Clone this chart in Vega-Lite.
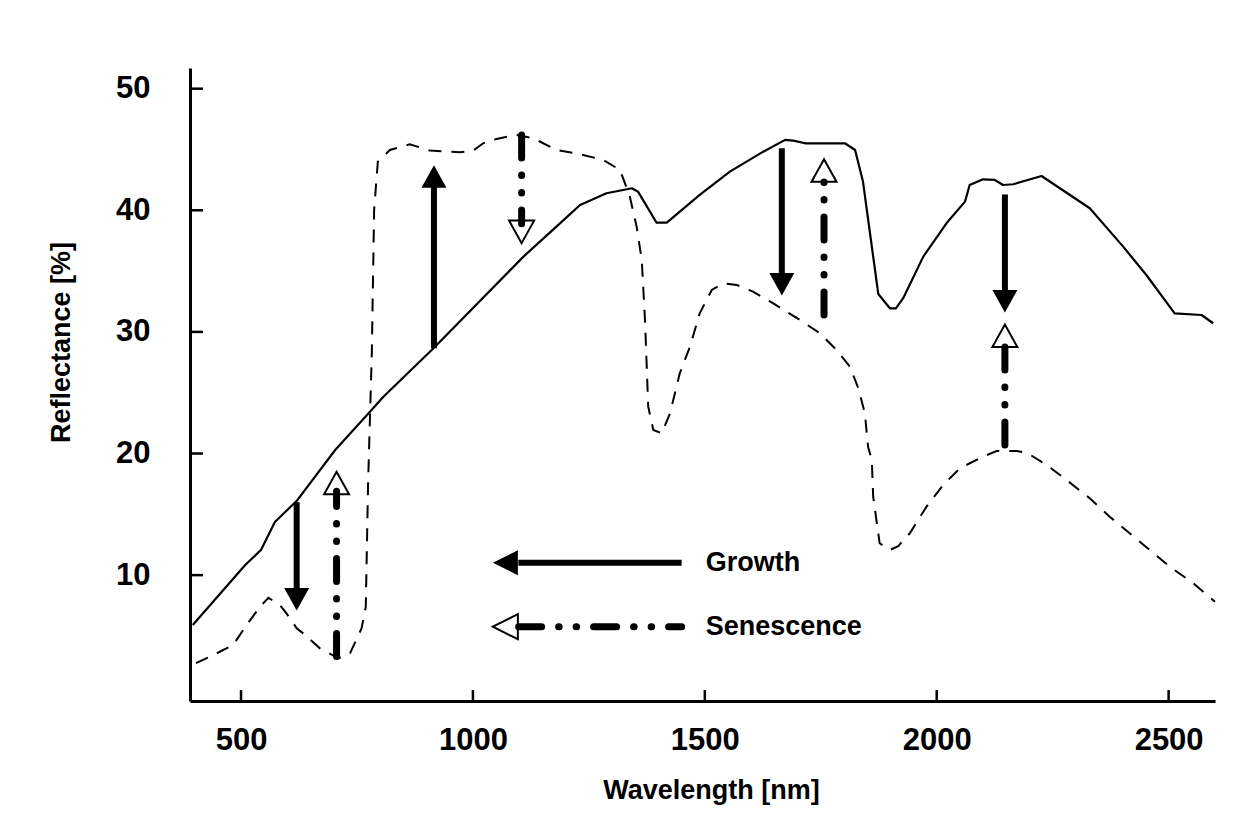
{
  "$schema": "https://vega.github.io/schema/vega-lite/v6.json",
  "width": 1025,
  "height": 633,
  "autosize": {"type": "none"},
  "padding": {"left": 190, "top": 68, "right": 33, "bottom": 114},
  "background": "white",
  "config": {
    "view": {"stroke": null},
    "font": "Liberation Sans",
    "axis": {
      "grid": false,
      "ticks": false,
      "domainColor": "black",
      "domainWidth": 3,
      "labelColor": "black",
      "labelFont": "Liberation Sans",
      "labelFontWeight": "bold",
      "labelFontSize": 31,
      "labelFlush": false,
      "labelOverlap": false,
      "labelBound": false,
      "titleColor": "black",
      "titleFont": "Liberation Sans",
      "titleFontWeight": "bold",
      "titleFontSize": 27
    }
  },
  "datasets": {
    "intact": [
      {"wavelength": 396, "reflectance": 5.9},
      {"wavelength": 509, "reflectance": 10.83},
      {"wavelength": 543, "reflectance": 12.07},
      {"wavelength": 573, "reflectance": 14.37},
      {"wavelength": 593, "reflectance": 15.11},
      {"wavelength": 621, "reflectance": 16.14},
      {"wavelength": 703, "reflectance": 20.29},
      {"wavelength": 778, "reflectance": 23.44},
      {"wavelength": 807, "reflectance": 24.67},
      {"wavelength": 915, "reflectance": 28.65},
      {"wavelength": 1109, "reflectance": 36.19},
      {"wavelength": 1180, "reflectance": 38.66},
      {"wavelength": 1231, "reflectance": 40.44},
      {"wavelength": 1288, "reflectance": 41.4},
      {"wavelength": 1343, "reflectance": 41.81},
      {"wavelength": 1356, "reflectance": 41.53},
      {"wavelength": 1396, "reflectance": 38.98},
      {"wavelength": 1418, "reflectance": 38.98},
      {"wavelength": 1489, "reflectance": 41.26},
      {"wavelength": 1554, "reflectance": 43.18},
      {"wavelength": 1626, "reflectance": 44.82},
      {"wavelength": 1673, "reflectance": 45.79},
      {"wavelength": 1691, "reflectance": 45.73},
      {"wavelength": 1716, "reflectance": 45.51},
      {"wavelength": 1802, "reflectance": 45.51},
      {"wavelength": 1824, "reflectance": 44.96},
      {"wavelength": 1841, "reflectance": 42.36},
      {"wavelength": 1874, "reflectance": 33.12},
      {"wavelength": 1899, "reflectance": 31.94},
      {"wavelength": 1912, "reflectance": 31.94},
      {"wavelength": 1928, "reflectance": 32.79},
      {"wavelength": 1971, "reflectance": 36.19},
      {"wavelength": 2021, "reflectance": 38.93},
      {"wavelength": 2061, "reflectance": 40.71},
      {"wavelength": 2071, "reflectance": 42.08},
      {"wavelength": 2100, "reflectance": 42.55},
      {"wavelength": 2125, "reflectance": 42.5},
      {"wavelength": 2143, "reflectance": 42.08},
      {"wavelength": 2165, "reflectance": 42.14},
      {"wavelength": 2226, "reflectance": 42.82},
      {"wavelength": 2330, "reflectance": 40.17},
      {"wavelength": 2402, "reflectance": 37.01},
      {"wavelength": 2452, "reflectance": 34.68},
      {"wavelength": 2513, "reflectance": 31.53},
      {"wavelength": 2571, "reflectance": 31.39},
      {"wavelength": 2596, "reflectance": 30.71}
    ],
    "senescent": [
      {"wavelength": 403, "reflectance": 2.77},
      {"wavelength": 433, "reflectance": 3.29},
      {"wavelength": 483, "reflectance": 4.25},
      {"wavelength": 512, "reflectance": 5.9},
      {"wavelength": 541, "reflectance": 7.4},
      {"wavelength": 559, "reflectance": 8.14},
      {"wavelength": 584, "reflectance": 7.54},
      {"wavelength": 598, "reflectance": 6.86},
      {"wavelength": 620, "reflectance": 5.63},
      {"wavelength": 634, "reflectance": 5.21},
      {"wavelength": 670, "reflectance": 3.98},
      {"wavelength": 710, "reflectance": 3.16},
      {"wavelength": 735, "reflectance": 3.57},
      {"wavelength": 760, "reflectance": 5.63},
      {"wavelength": 769, "reflectance": 7.4},
      {"wavelength": 774, "reflectance": 17.58},
      {"wavelength": 782, "reflectance": 28.27},
      {"wavelength": 787, "reflectance": 40.03},
      {"wavelength": 795, "reflectance": 44.0},
      {"wavelength": 821, "reflectance": 44.96},
      {"wavelength": 864, "reflectance": 45.43},
      {"wavelength": 907, "reflectance": 44.91},
      {"wavelength": 972, "reflectance": 44.77},
      {"wavelength": 1001, "reflectance": 44.91},
      {"wavelength": 1022, "reflectance": 45.51},
      {"wavelength": 1051, "reflectance": 45.87},
      {"wavelength": 1094, "reflectance": 46.2},
      {"wavelength": 1130, "reflectance": 45.93},
      {"wavelength": 1180, "reflectance": 44.96},
      {"wavelength": 1231, "reflectance": 44.61},
      {"wavelength": 1281, "reflectance": 44.14},
      {"wavelength": 1317, "reflectance": 43.32},
      {"wavelength": 1338, "reflectance": 41.18},
      {"wavelength": 1353, "reflectance": 38.66},
      {"wavelength": 1364, "reflectance": 35.92},
      {"wavelength": 1371, "reflectance": 30.98},
      {"wavelength": 1378, "reflectance": 23.85},
      {"wavelength": 1389, "reflectance": 21.94},
      {"wavelength": 1407, "reflectance": 21.66},
      {"wavelength": 1425, "reflectance": 23.31},
      {"wavelength": 1446, "reflectance": 26.6},
      {"wavelength": 1468, "reflectance": 28.79},
      {"wavelength": 1489, "reflectance": 31.53},
      {"wavelength": 1515, "reflectance": 33.45},
      {"wavelength": 1540, "reflectance": 34.0},
      {"wavelength": 1569, "reflectance": 33.86},
      {"wavelength": 1604, "reflectance": 33.31},
      {"wavelength": 1647, "reflectance": 32.36},
      {"wavelength": 1705, "reflectance": 30.98},
      {"wavelength": 1748, "reflectance": 29.89},
      {"wavelength": 1784, "reflectance": 28.51},
      {"wavelength": 1813, "reflectance": 27.14},
      {"wavelength": 1831, "reflectance": 25.36},
      {"wavelength": 1845, "reflectance": 23.31},
      {"wavelength": 1852, "reflectance": 20.56},
      {"wavelength": 1860, "reflectance": 19.47},
      {"wavelength": 1863, "reflectance": 16.45},
      {"wavelength": 1870, "reflectance": 14.53},
      {"wavelength": 1877, "reflectance": 12.62},
      {"wavelength": 1899, "reflectance": 12.07},
      {"wavelength": 1917, "reflectance": 12.39},
      {"wavelength": 1942, "reflectance": 13.44},
      {"wavelength": 1978, "reflectance": 15.63},
      {"wavelength": 2014, "reflectance": 17.41},
      {"wavelength": 2050, "reflectance": 18.79},
      {"wavelength": 2100, "reflectance": 19.74},
      {"wavelength": 2129, "reflectance": 20.21},
      {"wavelength": 2172, "reflectance": 20.21},
      {"wavelength": 2194, "reflectance": 20.07},
      {"wavelength": 2237, "reflectance": 19.06},
      {"wavelength": 2280, "reflectance": 17.82},
      {"wavelength": 2330, "reflectance": 16.32},
      {"wavelength": 2373, "reflectance": 14.8},
      {"wavelength": 2416, "reflectance": 13.44},
      {"wavelength": 2459, "reflectance": 12.07},
      {"wavelength": 2503, "reflectance": 10.69},
      {"wavelength": 2553, "reflectance": 9.33},
      {"wavelength": 2600, "reflectance": 7.81}
    ],
    "growth": [
      {"wavelength": 620, "from": 16.0, "to": 8.1, "tip": 7.1, "dir": "down"},
      {"wavelength": 916, "from": 28.65, "to": 42.7, "tip": 43.7, "dir": "up"},
      {"wavelength": 1666, "from": 45.1, "to": 34.0, "tip": 33.0, "dir": "down"},
      {"wavelength": 2147, "from": 41.3, "to": 32.6, "tip": 31.6, "dir": "down"}
    ],
    "senescence": [
      {"wavelength": 706, "from": 3.3, "to": 16.9, "tip": 18.5, "dir": "up"},
      {"wavelength": 1105, "from": 46.2, "to": 38.9, "tip": 37.3, "dir": "down"},
      {"wavelength": 1757, "from": 31.4, "to": 42.6, "tip": 44.2, "dir": "up"},
      {"wavelength": 2147, "from": 20.7, "to": 29.0, "tip": 30.6, "dir": "up"}
    ],
    "key": [
      {"label": "Growth", "tip": 1043, "base": 1098, "end": 1450, "text": 1502, "level": 11.02},
      {"label": "Senescence", "tip": 1043, "base": 1098, "end": 1450, "text": 1502, "level": 5.76}
    ],
    "xticks": [
      {"wavelength": 500}, {"wavelength": 1000}, {"wavelength": 1500}, {"wavelength": 2000}, {"wavelength": 2500}
    ],
    "yticks": [
      {"reflectance": 10}, {"reflectance": 20}, {"reflectance": 30}, {"reflectance": 40}, {"reflectance": 50}
    ]
  },
  "layer": [
    {
      "data": {"name": "intact"},
      "mark": {"type": "line", "color": "black", "strokeWidth": 2.2, "strokeJoin": "round"},
      "encoding": {
        "x": {
          "field": "wavelength",
          "type": "quantitative",
          "scale": {"domain": [390, 2600], "nice": false, "zero": false},
          "axis": {
            "values": [500, 1000, 1500, 2000, 2500],
            "format": "d",
            "title": "Wavelength [nm]",
            "labelPadding": 39,
            "labelBaseline": "middle",
            "labelAlign": "center",
            "titleX": 521,
            "titleY": 89,
            "titleAlign": "center",
            "titleBaseline": "middle"
          }
        },
        "y": {
          "field": "reflectance",
          "type": "quantitative",
          "scale": {"domain": [-0.35, 51.7], "nice": false, "zero": false},
          "axis": {
            "values": [10, 20, 30, 40, 50],
            "title": "Reflectance [%]",
            "labelPadding": 40,
            "labelAlign": "right",
            "labelBaseline": "middle",
            "titleAngle": -90,
            "titleX": -129,
            "titleY": 274,
            "titleAlign": "center",
            "titleBaseline": "middle"
          }
        }
      }
    },
    {
      "data": {"name": "senescent"},
      "mark": {"type": "line", "color": "black", "strokeWidth": 2, "strokeDash": [13, 10]},
      "encoding": {
        "x": {"field": "wavelength", "type": "quantitative"},
        "y": {"field": "reflectance", "type": "quantitative"}
      }
    },
    {
      "data": {"name": "xticks"},
      "mark": {"type": "rule", "color": "black", "strokeWidth": 2.5},
      "encoding": {
        "x": {"field": "wavelength", "type": "quantitative"},
        "y": {"datum": -0.35, "type": "quantitative"},
        "y2": {"datum": 0.55}
      }
    },
    {
      "data": {"name": "yticks"},
      "mark": {"type": "rule", "color": "black", "strokeWidth": 2.5},
      "encoding": {
        "y": {"field": "reflectance", "type": "quantitative"},
        "x": {"datum": 390, "type": "quantitative"},
        "x2": {"datum": 418}
      }
    },
    {
      "data": {"name": "senescence"},
      "mark": {"type": "point", "filled": true, "fill": "white", "stroke": "black", "strokeWidth": 2, "size": 625, "opacity": 1},
      "encoding": {
        "x": {"field": "wavelength", "type": "quantitative"},
        "y": {"field": "tip", "type": "quantitative"},
        "shape": {
          "field": "dir",
          "type": "nominal",
          "scale": {"domain": ["up", "down"], "range": ["M0,0L1,1.8L-1,1.8Z", "M0,0L1,-1.8L-1,-1.8Z"]},
          "legend": null
        }
      }
    },
    {
      "data": {"name": "senescence"},
      "mark": {"type": "rule", "color": "black", "strokeWidth": 7, "strokeCap": "round", "strokeDash": [23, 17, 0.5, 17, 0.5, 17]},
      "encoding": {
        "x": {"field": "wavelength", "type": "quantitative"},
        "y": {"field": "from", "type": "quantitative"},
        "y2": {"field": "to"}
      }
    },
    {
      "data": {"name": "growth"},
      "mark": {"type": "rule", "color": "black", "strokeWidth": 6},
      "encoding": {
        "x": {"field": "wavelength", "type": "quantitative"},
        "y": {"field": "from", "type": "quantitative"},
        "y2": {"field": "to"}
      }
    },
    {
      "data": {"name": "growth"},
      "mark": {"type": "point", "filled": true, "color": "black", "size": 625, "opacity": 1},
      "encoding": {
        "x": {"field": "wavelength", "type": "quantitative"},
        "y": {"field": "tip", "type": "quantitative"},
        "shape": {
          "field": "dir",
          "type": "nominal",
          "scale": {"domain": ["up", "down"], "range": ["M0,0L1,1.8L-1,1.8Z", "M0,0L1,-1.8L-1,-1.8Z"]},
          "legend": null
        }
      }
    },
    {
      "data": {"name": "key"},
      "transform": [{"filter": "datum.label === 'Growth'"}],
      "mark": {"type": "rule", "color": "black", "strokeWidth": 6},
      "encoding": {
        "x": {"field": "end", "type": "quantitative"},
        "x2": {"field": "base"},
        "y": {"field": "level", "type": "quantitative"}
      }
    },
    {
      "data": {"name": "key"},
      "transform": [{"filter": "datum.label === 'Growth'"}],
      "mark": {"type": "point", "filled": true, "color": "black", "size": 625, "opacity": 1, "shape": "M0,0L2,-1L2,1Z"},
      "encoding": {
        "x": {"field": "tip", "type": "quantitative"},
        "y": {"field": "level", "type": "quantitative"}
      }
    },
    {
      "data": {"name": "key"},
      "transform": [{"filter": "datum.label === 'Senescence'"}],
      "mark": {"type": "point", "filled": true, "fill": "white", "stroke": "black", "strokeWidth": 2, "size": 625, "opacity": 1, "shape": "M0,0L2,-1L2,1Z"},
      "encoding": {
        "x": {"field": "tip", "type": "quantitative"},
        "y": {"field": "level", "type": "quantitative"}
      }
    },
    {
      "data": {"name": "key"},
      "transform": [{"filter": "datum.label === 'Senescence'"}],
      "mark": {"type": "rule", "color": "black", "strokeWidth": 7, "strokeCap": "round", "strokeDash": [23, 17, 0.5, 17, 0.5, 17], "strokeDashOffset": 10},
      "encoding": {
        "x": {"field": "end", "type": "quantitative"},
        "x2": {"field": "base"},
        "y": {"field": "level", "type": "quantitative"}
      }
    },
    {
      "data": {"name": "key"},
      "mark": {"type": "text", "align": "left", "baseline": "middle", "font": "Liberation Sans", "fontWeight": "bold", "fontSize": 27, "color": "black"},
      "encoding": {
        "x": {"field": "text", "type": "quantitative"},
        "y": {"field": "level", "type": "quantitative"},
        "text": {"field": "label"}
      }
    }
  ]
}
